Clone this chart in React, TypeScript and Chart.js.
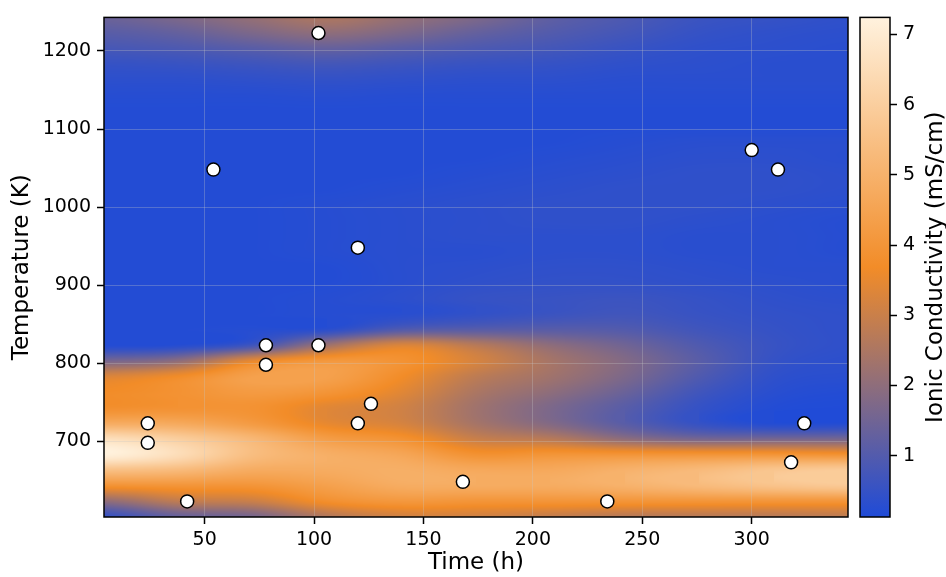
import React, { useEffect, useRef } from "react";
import { Chart, registerables } from "chart.js";

Chart.register(...registerables);

// ---- axis / tick data ----
const X_TICKS = [50, 100, 150, 200, 250, 300];
const Y_TICKS = [700, 800, 900, 1000, 1100, 1200];
const CB_TICKS = [1, 2, 3, 4, 5, 6, 7];
const X_MIN = 4;
const X_MAX = 344;
const Y_MIN = 603;
const Y_MAX = 1243;
const CB_MIN = 0.126;
const CB_MAX = 7.242;

// ---- measured samples (scatter) ----
const TIME_H = [24, 24, 42, 54, 78, 78, 102, 102, 120, 120, 126, 168, 234, 300, 312, 318, 324];
const TEMP_K = [723, 698, 623, 1048, 823, 798, 1223, 823, 948, 723, 748, 648, 623, 1073, 1048, 673, 723];

// ---- conductivity field, grid nodes ----
const GRID_TIME = [4, 38, 72, 106, 140, 174, 208, 242, 276, 310, 344];
const GRID_TEMP = [
  1243, 1223, 1203, 1183, 1163, 1143, 1123, 1103, 1083, 1063, 1043, 1023, 1003, 983, 963, 943, 923,
  903, 883, 863, 843, 823, 803, 783, 763, 743, 723, 703, 683, 663, 643, 623, 603,
];
const GRID_SIGMA = [
  [1.4, 1.7, 2.1, 2.5, 2.1, 1.7, 1.2, 0.9, 0.6, 0.5, 0.4], // 1243
  [1.1, 1.3, 1.7, 2.0, 1.7, 1.3, 1.0, 0.75, 0.5, 0.4, 0.35], // 1223
  [0.8, 0.9, 1.1, 1.3, 1.1, 0.9, 0.75, 0.55, 0.4, 0.35, 0.3], // 1203
  [0.5, 0.55, 0.65, 0.75, 0.65, 0.55, 0.5, 0.4, 0.35, 0.3, 0.3], // 1183
  [0.35, 0.35, 0.4, 0.45, 0.4, 0.35, 0.35, 0.3, 0.3, 0.3, 0.3], // 1163
  [0.25, 0.25, 0.25, 0.28, 0.25, 0.25, 0.25, 0.25, 0.25, 0.25, 0.25], // 1143
  [0.2, 0.2, 0.2, 0.2, 0.2, 0.2, 0.2, 0.2, 0.2, 0.2, 0.2], // 1123
  [0.2, 0.2, 0.2, 0.2, 0.2, 0.2, 0.2, 0.2, 0.2, 0.2, 0.2], // 1103
  [0.2, 0.2, 0.2, 0.2, 0.2, 0.2, 0.2, 0.25, 0.3, 0.3, 0.3], // 1083
  [0.2, 0.2, 0.2, 0.2, 0.2, 0.2, 0.25, 0.3, 0.35, 0.35, 0.3], // 1063
  [0.2, 0.2, 0.2, 0.2, 0.2, 0.25, 0.3, 0.35, 0.4, 0.4, 0.35], // 1043
  [0.2, 0.2, 0.2, 0.2, 0.25, 0.3, 0.35, 0.4, 0.4, 0.4, 0.35], // 1023
  [0.2, 0.2, 0.2, 0.25, 0.3, 0.35, 0.4, 0.4, 0.4, 0.35, 0.3], // 1003
  [0.2, 0.2, 0.2, 0.25, 0.3, 0.35, 0.4, 0.4, 0.35, 0.3, 0.25], // 983
  [0.2, 0.2, 0.2, 0.25, 0.3, 0.35, 0.35, 0.35, 0.3, 0.3, 0.25], // 963
  [0.2, 0.2, 0.2, 0.25, 0.3, 0.3, 0.35, 0.35, 0.3, 0.3, 0.25], // 943
  [0.2, 0.2, 0.2, 0.2, 0.3, 0.35, 0.4, 0.4, 0.35, 0.3, 0.3], // 923
  [0.2, 0.2, 0.2, 0.2, 0.3, 0.4, 0.45, 0.45, 0.4, 0.35, 0.3], // 903
  [0.2, 0.2, 0.2, 0.25, 0.35, 0.5, 0.55, 0.6, 0.5, 0.4, 0.35], // 883
  [0.2, 0.2, 0.2, 0.25, 0.3, 0.45, 0.6, 0.7, 0.55, 0.45, 0.4], // 863
  [0.2, 0.2, 0.25, 0.35, 1.0, 1.1, 1.1, 1.0, 0.7, 0.5, 0.4], // 843
  [0.2, 0.25, 0.7, 2.3, 3.3, 2.7, 2.0, 1.5, 0.95, 0.55, 0.4], // 823
  [1.6, 2.0, 3.5, 4.1, 3.9, 3.2, 2.4, 1.8, 1.1, 0.5, 0.35], // 803
  [3.3, 3.7, 4.4, 4.4, 3.7, 2.8, 2.3, 1.7, 0.95, 0.4, 0.3], // 783
  [3.7, 3.9, 4.2, 4.0, 3.4, 2.5, 2.0, 1.4, 0.7, 0.3, 0.2], // 763
  [3.8, 3.9, 3.9, 3.4, 3.1, 2.3, 1.7, 1.1, 0.5, 0.2, 0.15], // 743
  [4.8, 4.7, 4.2, 3.5, 3.2, 2.4, 1.8, 1.1, 0.5, 0.2, 0.2], // 723
  [6.6, 6.0, 5.2, 4.3, 3.9, 3.0, 2.7, 2.0, 1.6, 1.6, 1.6], // 703
  [7.2, 6.5, 5.4, 4.9, 4.6, 3.9, 4.0, 4.0, 4.0, 4.0, 3.9], // 683
  [5.5, 5.3, 4.8, 4.8, 4.9, 4.7, 4.7, 5.0, 5.3, 5.7, 5.9], // 663
  [3.9, 4.0, 4.0, 4.4, 4.8, 4.8, 4.8, 5.0, 5.3, 5.6, 5.8], // 643
  [2.0, 2.8, 3.0, 3.8, 4.1, 4.0, 4.0, 4.0, 4.0, 4.0, 4.0], // 623
  [0.5, 1.3, 1.6, 2.6, 3.1, 3.1, 2.9, 2.7, 2.7, 2.7, 2.8], // 603
];

// colormap stops: low, mid, high
const CMAP_LOW = [31, 75, 216];
const CMAP_MID = [242, 140, 40];
const CMAP_HIGH = [255, 242, 222];

const FONT = "DejaVu Sans";

function colorFor(v: number): number[] {
  let t = (v - CB_MIN) / (CB_MAX - CB_MIN);
  if (t < 0) t = 0;
  if (t > 1) t = 1;
  let a: number[], b: number[], f: number;
  if (t < 0.5) {
    a = CMAP_LOW; b = CMAP_MID; f = t * 2;
  } else {
    a = CMAP_MID; b = CMAP_HIGH; f = (t - 0.5) * 2;
  }
  return [a[0] + (b[0] - a[0]) * f, a[1] + (b[1] - a[1]) * f, a[2] + (b[2] - a[2]) * f];
}

// Catmull-Rom weights
function crWeights(f: number): number[] {
  const f2 = f * f, f3 = f2 * f;
  return [
    -0.5 * f3 + f2 - 0.5 * f,
    1.5 * f3 - 2.5 * f2 + 1,
    -1.5 * f3 + 2 * f2 + 0.5 * f,
    0.5 * f3 - 0.5 * f2,
  ];
}

function locate(arr: number[], v: number, desc: boolean): [number, number] {
  const n = arr.length;
  if (!desc) {
    if (v <= arr[0]) return [0, 0];
    if (v >= arr[n - 1]) return [n - 2, 1];
    let i = 0;
    while (i < n - 2 && v > arr[i + 1]) i++;
    return [i, (v - arr[i]) / (arr[i + 1] - arr[i])];
  }
  if (v >= arr[0]) return [0, 0];
  if (v <= arr[n - 1]) return [n - 2, 1];
  let i = 0;
  while (i < n - 2 && v < arr[i + 1]) i++;
  return [i, (arr[i] - v) / (arr[i] - arr[i + 1])];
}

function fieldAt(x: number, T: number): number {
  const nx = GRID_TIME.length;
  const ny = GRID_TEMP.length;
  const [i, fx] = locate(GRID_TIME, x, false);
  const [j, fy] = locate(GRID_TEMP, T, true);
  const wx = crWeights(fx);
  const wy = crWeights(fy);
  let sum = 0;
  for (let b = 0; b < 4; b++) {
    const jj = Math.min(ny - 1, Math.max(0, j - 1 + b));
    let row = 0;
    for (let a = 0; a < 4; a++) {
      const ii = Math.min(nx - 1, Math.max(0, i - 1 + a));
      row += wx[a] * GRID_SIGMA[jj][ii];
    }
    sum += wy[b] * row;
  }
  const c = [GRID_SIGMA[j][i], GRID_SIGMA[j][i + 1], GRID_SIGMA[j + 1][i], GRID_SIGMA[j + 1][i + 1]];
  const lo = Math.min(...c), hi = Math.max(...c);
  return Math.min(hi, Math.max(lo, sum));
}

const heatmapPlugin = {
  id: "heatmapField",
  beforeDraw(chart: any) {
    const { ctx, chartArea: a, scales } = chart;
    const w = Math.round(a.right - a.left);
    const h = Math.round(a.bottom - a.top);
    const off = document.createElement("canvas");
    off.width = w;
    off.height = h;
    const octx = off.getContext("2d")!;
    const img = octx.createImageData(w, h);
    const xs: number[] = [];
    for (let px = 0; px < w; px++) xs.push(scales.x.getValueForPixel(a.left + px + 0.5));
    for (let py = 0; py < h; py++) {
      const T = scales.y.getValueForPixel(a.top + py + 0.5);
      for (let px = 0; px < w; px++) {
        const c = colorFor(fieldAt(xs[px], T));
        const k = (py * w + px) * 4;
        img.data[k] = c[0];
        img.data[k + 1] = c[1];
        img.data[k + 2] = c[2];
        img.data[k + 3] = 255;
      }
    }
    octx.putImageData(img, 0, 0);
    ctx.drawImage(off, a.left, a.top);
  },
  afterDraw(chart: any) {
    const { ctx, chartArea: a } = chart;
    ctx.save();
    ctx.strokeStyle = "#000";
    ctx.lineWidth = 1.5;
    ctx.strokeRect(a.left, a.top, a.right - a.left, a.bottom - a.top);
    ctx.restore();
  },
};

const colorbarPlugin = {
  id: "colorbarFill",
  beforeDraw(chart: any) {
    const { ctx, chartArea: a, scales } = chart;
    const y0 = scales.y.getPixelForValue(CB_MIN);
    const y1 = scales.y.getPixelForValue(CB_MAX);
    const g = ctx.createLinearGradient(0, y0, 0, y1);
    g.addColorStop(0, `rgb(${CMAP_LOW.join(",")})`);
    g.addColorStop(0.5, `rgb(${CMAP_MID.join(",")})`);
    g.addColorStop(1, `rgb(${CMAP_HIGH.join(",")})`);
    ctx.save();
    ctx.fillStyle = g;
    ctx.fillRect(a.left, a.top, a.right - a.left, a.bottom - a.top);
    ctx.restore();
  },
  afterDraw(chart: any) {
    const { ctx, chartArea: a } = chart;
    ctx.save();
    ctx.strokeStyle = "#000";
    ctx.lineWidth = 1.5;
    ctx.strokeRect(a.left, a.top, a.right - a.left, a.bottom - a.top);
    ctx.translate(80, (a.top + a.bottom) / 2);
    ctx.rotate(-Math.PI / 2);
    ctx.font = `23px "${FONT}"`;
    ctx.fillStyle = "#000";
    ctx.textAlign = "center";
    ctx.textBaseline = "middle";
    ctx.fillText("Ionic Conductivity (mS/cm)", 0, 0);
    ctx.restore();
  },
};

const tickFont = { family: FONT, size: 19 };
const titleFont = { family: FONT, size: 23, lineHeight: 1.2 };
const plainTick = (v: any) => String(v);

export default function App() {
  const mainRef = useRef<HTMLCanvasElement>(null);
  const cbRef = useRef<HTMLCanvasElement>(null);

  useEffect(() => {
    const points = TIME_H.map((t, i) => ({ x: t, y: TEMP_K[i] }));
    const main = new Chart(mainRef.current!, {
      type: "scatter",
      data: {
        datasets: [
          {
            data: points,
            pointRadius: 6.5,
            pointHoverRadius: 6.5,
            pointBackgroundColor: "#ffffff",
            pointBorderColor: "#000000",
            pointBorderWidth: 1.5,
          },
        ],
      },
      options: {
        responsive: false,
        animation: false,
        events: [],
        layout: { padding: { left: 0, top: 14, right: 8, bottom: 0 } },
        plugins: { legend: { display: false }, tooltip: { enabled: false } },
        scales: {
          x: {
            type: "linear",
            min: X_MIN,
            max: X_MAX,
            afterBuildTicks: (s: any) => { s.ticks = X_TICKS.map((v) => ({ value: v })); },
            afterFit: (s: any) => { s.height = 60; },
            ticks: { font: tickFont, color: "#000", padding: 5, maxRotation: 0, callback: plainTick },
            grid: {
              color: "rgba(200,200,200,0.3)",
              lineWidth: 1,
              tickColor: "#000",
              tickWidth: 1.5,
              tickLength: 7,
            },
            border: { display: false },
            title: { display: true, text: "Time (h)", font: titleFont, color: "#000", padding: { top: 0, bottom: 0 } },
          },
          y: {
            type: "linear",
            min: Y_MIN,
            max: Y_MAX,
            afterBuildTicks: (s: any) => { s.ticks = Y_TICKS.map((v) => ({ value: v })); },
            afterFit: (s: any) => { s.width = 104; },
            ticks: { font: tickFont, color: "#000", padding: 6, callback: plainTick },
            grid: {
              color: "rgba(200,200,200,0.3)",
              lineWidth: 1,
              tickColor: "#000",
              tickWidth: 1.5,
              tickLength: 7,
            },
            border: { display: false },
            title: { display: true, text: "Temperature (K)", font: titleFont, color: "#000", padding: { top: 8, bottom: 0 } },
          },
        },
      },
      plugins: [heatmapPlugin],
    } as any);

    const cb = new Chart(cbRef.current!, {
      type: "scatter",
      data: { datasets: [] },
      options: {
        responsive: false,
        animation: false,
        events: [],
        layout: { padding: { left: 4, top: 14, right: 0, bottom: 60 } },
        plugins: { legend: { display: false }, tooltip: { enabled: false } },
        scales: {
          x: { display: false, min: 0, max: 1 },
          y: {
            type: "linear",
            position: "right",
            min: CB_MIN,
            max: CB_MAX,
            afterBuildTicks: (s: any) => { s.ticks = CB_TICKS.map((v) => ({ value: v })); },
            afterFit: (s: any) => { s.width = 56; },
            ticks: { font: tickFont, color: "#000", padding: 6, callback: plainTick },
            grid: {
              drawOnChartArea: false,
              tickColor: "#000",
              tickWidth: 1.5,
              tickLength: 7,
            },
            border: { display: false },
          },
        },
      },
      plugins: [colorbarPlugin],
    } as any);

    return () => {
      main.destroy();
      cb.destroy();
    };
  }, []);

  return (
    <div style={{ position: "fixed", left: 0, top: 0, width: 946, height: 577, background: "#fff" }}>
      <canvas
        ref={mainRef}
        width={856}
        height={577}
        style={{ position: "absolute", left: 0, top: 0, width: 856, height: 577 }}
      />
      <canvas
        ref={cbRef}
        width={90}
        height={577}
        style={{ position: "absolute", left: 856, top: 0, width: 90, height: 577 }}
      />
    </div>
  );
}
